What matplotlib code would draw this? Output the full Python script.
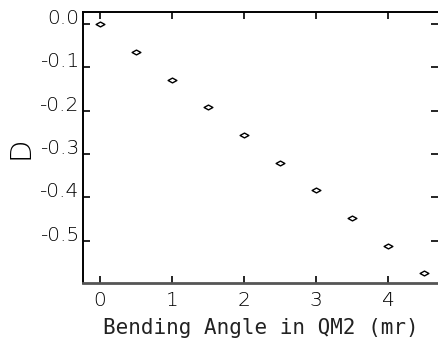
import matplotlib.pyplot as plt
from matplotlib.path import Path

plt.rcParams['axes.unicode_minus'] = False
plt.rcParams['font.family'] = 'DejaVu Sans'

# === Dados ===
angulo = [0.0, 0.5, 1.0, 1.5, 2.0, 2.5, 3.0, 3.5, 4.0, 4.5]
d_vals = [0.0, -0.064, -0.128, -0.192, -0.256, -0.320, -0.384, -0.448, -0.512, -0.575]
xticks = [0, 1, 2, 3, 4]
yticks = [0.0, -0.1, -0.2, -0.3, -0.4, -0.5]
ytick_labels = ["0.0", "-0.1", "-0.2", "-0.3", "-0.4", "-0.5"]

# losango achatado
losango = Path([(-1, 0), (0, 0.55), (1, 0), (0, -0.55), (-1, 0)],
               [Path.MOVETO, Path.LINETO, Path.LINETO, Path.LINETO, Path.CLOSEPOLY])

fig = plt.figure(figsize=(4.38, 3.42), dpi=100)
ax = fig.add_axes([83 / 438, 59 / 342, 355 / 438, 271 / 342])

ax.scatter(angulo, d_vals, marker=losango, s=40, facecolors='white',
           edgecolors='black', linewidths=1.0, zorder=3)

ax.set_xlim(-0.236, 4.694)
ax.set_ylim(-0.598, 0.028)
ax.set_xticks(xticks)
ax.set_yticks(yticks)
ax.set_yticklabels(ytick_labels)

ax.tick_params(direction='in', length=5, width=1.2, top=True, right=True,
               labelsize=14.5, labelcolor='black')
ax.tick_params(axis='y', pad=3)
ax.tick_params(axis='x', pad=6)
for lbl in ax.get_yticklabels() + ax.get_xticklabels():
    lbl.set_fontweight('light')
for lbl in ax.get_yticklabels():
    lbl.set_verticalalignment('baseline')

ax.spines['right'].set_visible(False)
for s in ['left', 'top']:
    ax.spines[s].set_linewidth(1.4)
ax.spines['bottom'].set_linewidth(2.0)
ax.spines['bottom'].set_color('#555555')

ax.set_xlabel("Bending Angle in QM2 (mr)", fontsize=15, family='DejaVu Sans Mono',
              color='#222222', va='baseline')
ax.xaxis.set_label_coords(0.5, -0.188)
ax.set_ylabel("D", fontsize=21, fontweight='light', color='black', va='center')
ax.yaxis.set_label_coords(-0.175, 0.5)

fig.savefig("out.png", dpi=100)
